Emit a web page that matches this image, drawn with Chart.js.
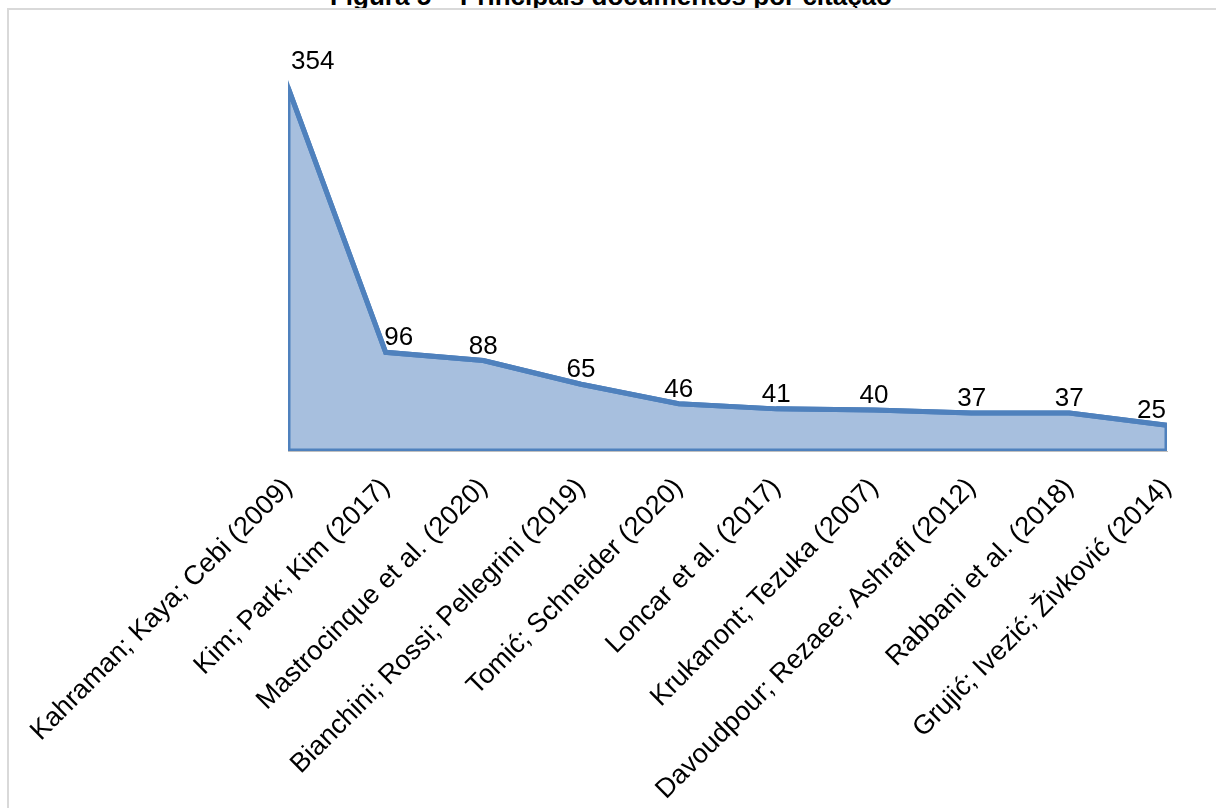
<!DOCTYPE html>
<html>
<head>
<meta charset="utf-8">
<script src="https://cdn.jsdelivr.net/npm/chart.js@4.4.1/dist/chart.umd.min.js"></script>
<style>
  html, body { margin: 0; padding: 0; background: #fff; width: 1216px; height: 808px; overflow: hidden; }
  #frame { position: absolute; left: 7px; top: 8px; width: 1300px; height: 900px; border: 2px solid #D9D9D9; box-sizing: border-box; }
  #title { position: absolute; left: 0; top: -17px; width: 1222px; text-align: center; font: bold 26px "Liberation Sans", Arial, sans-serif; line-height: 26px; color: #000; white-space: nowrap; }
  #c { position: absolute; left: 0; top: 0; }
</style>
</head>
<body>
<div id="title">Figura 5 – Principais documentos por citação</div>
<div id="frame"></div>
<canvas id="c" width="1216" height="808"></canvas>
<script>
// Most cited documents and their citation counts
const categories = [
  'Kahraman; Kaya; Cebi (2009)',
  'Kim; Park; Kim (2017)',
  'Mastrocinque et al. (2020)',
  'Bianchini; Rossi; Pellegrini (2019)',
  'Tomić; Schneider (2020)',
  'Loncar et al. (2017)',
  'Krukanont; Tezuka (2007)',
  'Davoudpour; Rezaee; Ashrafi (2012)',
  'Rabbani et al. (2018)',
  'Grujić; Ivezić; Živković (2014)'
];
const citations = [354, 96, 88, 65, 46, 41, 40, 37, 37, 25];
const yMin = 0;
const yMax = 400;

const FONT = '"Liberation Sans", Arial, sans-serif';
const LINE_BLUE = '#4F81BD';
const FILL_BLUE = '#A7BFDE';

// Strokes the whole area polygon (top line, sides and base), clipped to the plot area
const areaOutline = {
  id: 'areaOutline',
  afterDatasetsDraw(chart) {
    const meta = chart.getDatasetMeta(0);
    const pts = meta.data;
    if (!pts.length) return;
    const base = chart.scales.y.getPixelForValue(0);
    const a = chart.chartArea;
    const ctx = chart.ctx;
    ctx.save();
    ctx.beginPath();
    ctx.rect(a.left, a.top - 40, a.right - a.left, a.bottom - a.top + 40);
    ctx.clip();
    ctx.beginPath();
    ctx.moveTo(pts[0].x, base);
    pts.forEach(p => ctx.lineTo(p.x, p.y));
    ctx.lineTo(pts[pts.length - 1].x, base);
    ctx.closePath();
    ctx.lineWidth = 5;
    ctx.lineJoin = 'miter';
    ctx.strokeStyle = LINE_BLUE;
    ctx.stroke();
    ctx.restore();
  }
};

// Value labels above each point, kept inside the plot area
const valueLabels = {
  id: 'valueLabels',
  afterDatasetsDraw(chart, args, opts) {
    const meta = chart.getDatasetMeta(0);
    const a = chart.chartArea;
    const ctx = chart.ctx;
    const nudges = opts.nudges || {};
    ctx.save();
    ctx.font = '26px ' + FONT;
    ctx.fillStyle = '#000';
    ctx.textBaseline = 'alphabetic';
    ctx.textAlign = 'left';
    meta.data.forEach((p, i) => {
      const text = String(chart.data.datasets[0].data[i]);
      const w = ctx.measureText(text).width;
      const n = nudges[i] || [0, 0];
      let left = p.x - w / 2 + n[0];
      left = Math.max(left, a.left + 3);
      left = Math.min(left, a.right - 1 - w);
      ctx.fillText(text, left, p.y - 7 + n[1]);
    });
    ctx.restore();
  }
};

new Chart(document.getElementById('c').getContext('2d'), {
  type: 'line',
  data: {
    labels: categories,
    datasets: [{
      data: citations,
      fill: 'origin',
      backgroundColor: FILL_BLUE,
      borderColor: LINE_BLUE,
      borderWidth: 5,
      borderJoinStyle: 'miter',
      pointRadius: 0,
      tension: 0,
      clip: 0
    }]
  },
  options: {
    responsive: false,
    animation: false,
    layout: { padding: { left: 288, right: 49, top: 40, bottom: 0 } },
    plugins: {
      legend: { display: false },
      tooltip: { enabled: false },
      valueLabels: { nudges: { 0: [0, -11], 1: [13, 0] } }
    },
    scales: {
      x: {
        offset: false,
        grid: { display: false },
        border: { display: true, color: '#BFBFBF', width: 1 },
        ticks: {
          autoSkip: false,
          maxRotation: 45,
          minRotation: 45,
          padding: 13,
          color: '#000',
          font: { family: FONT, size: 27 }
        },
        afterFit(scale) { scale.height = 808 - 451; }
      },
      y: { display: false, min: yMin, max: yMax }
    }
  },
  plugins: [areaOutline, valueLabels]
});
</script>
</body>
</html>
